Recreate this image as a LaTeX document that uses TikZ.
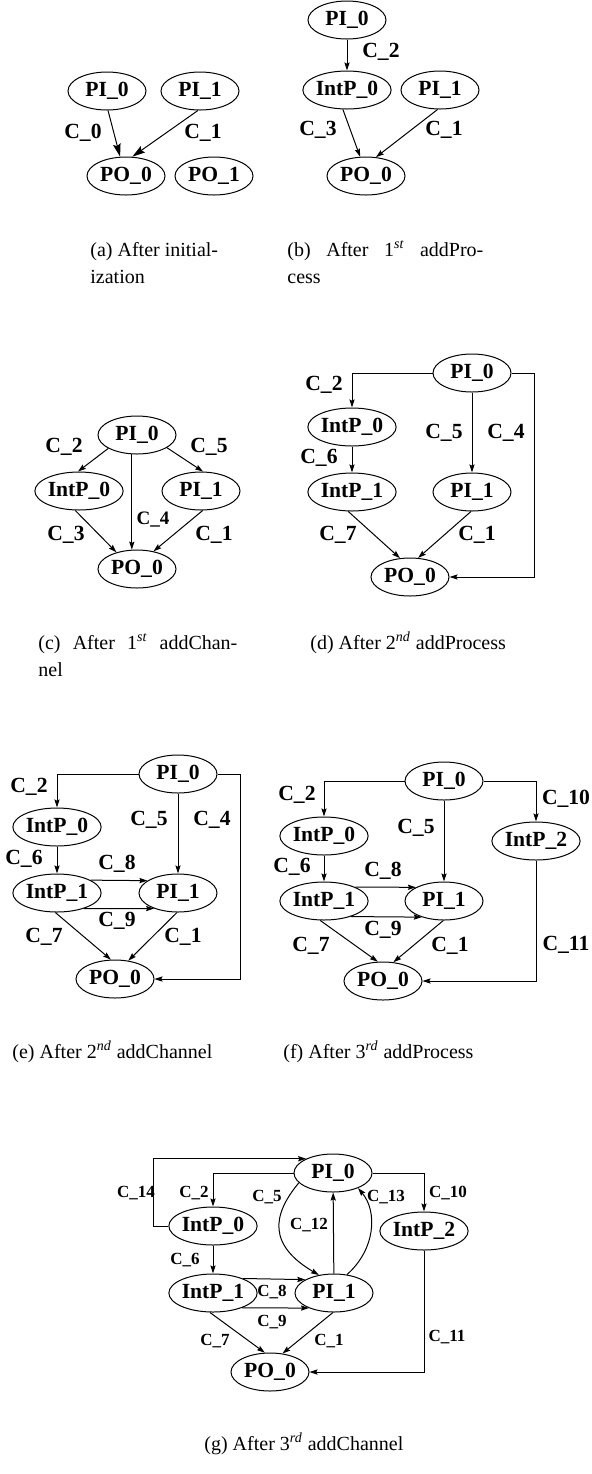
\documentclass[tikz,border=0pt]{standalone}
\usepackage{fontspec}
\setmainfont{Liberation Serif}
\usetikzlibrary{arrows.meta,shapes.geometric}
\begin{document}
\begin{tikzpicture}[x=0.5pt,y=-0.5pt,
  nd/.style={draw, ellipse, minimum width=39pt, minimum height=19pt, inner sep=0pt, line width=0.5pt, font=\fontsize{10.8}{12}\selectfont\bfseries},
  lab/.style={inner sep=0pt, font=\fontsize{10.8}{12}\selectfont\bfseries},
  slab/.style={inner sep=0pt, font=\fontsize{8.5}{10}\selectfont\bfseries},
  mlab/.style={inner sep=0pt, font=\fontsize{9.5}{11}\selectfont\bfseries},
  edg/.style={line width=0.5pt, -{Stealth[length=4pt,width=2.6pt,inset=0.6pt]}},
  bigarr/.style={line width=0.5pt, -{Stealth[length=6.5pt,width=3.8pt,inset=1pt]}},
  capt/.style={anchor=base west, inner sep=0pt, font=\fontsize{10}{12}\selectfont}]
\useasboundingbox (0,0) rectangle (591,1474);
\newcommand{\sst}[1]{\textsuperscript{\itshape #1}}
% (a)
\node[nd] (a0) at (107,91) {PI\_0};
\node[nd] (a1) at (200,91) {PI\_1};
\node[nd] (a2) at (126,176) {PO\_0};
\node[nd] (a3) at (214,176) {PO\_1};
\draw[bigarr] (a0.-87) -- (a2.107);
\draw[bigarr] (a1.-96) -- (a2.72);
\node[lab] (la0) at (83,133) {C\_0};
\node[lab] (la1) at (203,133) {C\_1};
\node[capt] (ca1) at (90,256) {(a) After initial-};
\node[capt] (ca2) at (90,283) {ization};
% (b)
\node[nd] (b0) at (347,20) {PI\_0};
\node[nd] (b1) at (347,90) {IntP\_0};
\node[nd] (b2) at (440,90) {PI\_1};
\node[nd] (b3) at (366,176) {PO\_0};
\draw[edg] (b0) -- (b1);
\draw[edg] (b1.-102) -- (b3.107);
\draw[edg] (b2.-97) -- (b3.62);
\node[lab] (lb2) at (381,52) {C\_2};
\node[lab] (lb3) at (318,130) {C\_3};
\node[lab] (lb1) at (444,130) {C\_1};
\node[capt] (cb1) at (287,256) {\makebox[98pt][s]{(b) After 1\sst{st} addPro-}};
\node[capt] (cb2) at (287,283) {cess};
% (c)
\node[nd] (c0) at (137,435) {PI\_0};
\node[nd] (c1) at (79,491) {IntP\_0};
\node[nd] (c2) at (201,491) {PI\_1};
\node[nd] (c3) at (137,569) {PO\_0};
\draw[edg] (c0.-155) -- (c1.93);
\draw[edg] (c0.-23) -- (c2.84);
\draw[edg] (c0.-105) -- (c3.105);
\draw[edg] (c1.-101) -- (c3.141);
\draw[edg] (c2.-85) -- (c3.47);
\node[lab] (lc2) at (64,447) {C\_2};
\node[lab] (lc5) at (209,447) {C\_5};
\node[mlab] (lc4) at (153,520) {C\_4};
\node[lab] (lc3) at (66,535) {C\_3};
\node[lab] (lc1) at (214,535) {C\_1};
\node[capt] (cc1) at (38,649) {\makebox[99.5pt][s]{(c) After 1\sst{st} addChan-}};
\node[capt] (cc2) at (38,676) {nel};
% (d)
\node[nd] (d0) at (472,373) {PI\_0};
\node[nd] (d1) at (352,427) {IntP\_0};
\node[nd] (d2) at (352,492) {IntP\_1};
\node[nd] (d3) at (472,492) {PI\_1};
\node[nd] (d4) at (410,577) {PO\_0};
\draw[edg] (d0.west) -| (d1.north);
\draw[edg] (d1) -- (d2);
\draw[edg] (d0) -- (d3);
\draw[edg] (d0.east) -- ++(23,0) |- (d4.east);
\draw[edg] (d2.-101) -- (d4.118);
\draw[edg] (d3.-93) -- (d4.67);
\node[lab] (ld2) at (324,385) {C\_2};
\node[lab] (ld6) at (319,458) {C\_6};
\node[lab] (ld5) at (444,433) {C\_5};
\node[lab] (ld4) at (506,433) {C\_4};
\node[lab] (ld7) at (338,535) {C\_7};
\node[lab] (ld1) at (477,535) {C\_1};
\node[capt] (cd1) at (310,649) {(d) After 2\sst{nd} addProcess};
% (e)
\node[nd] (e0) at (178,774) {PI\_0};
\node[nd] (e1) at (57,827) {IntP\_0};
\node[nd] (e2) at (57,893) {IntP\_1};
\node[nd] (e3) at (178,893) {PI\_1};
\node[nd] (e4) at (115,979) {PO\_0};
\draw[edg] (e0.west) -| (e1.north);
\draw[edg] (e1) -- (e2);
\draw[edg] (e0) -- (e3);
\draw[edg] (e2.21) -- (e3.158);
\draw[edg] (e2.-30) -- (e3.-147);
\draw[edg] (e0.east) -- ++(23,0) |- (e4.east);
\draw[edg] (e2.-95) -- (e4.102);
\draw[edg] (e3.-93) -- (e4.54);
\node[lab] (le2) at (29,787) {C\_2};
\node[lab] (le6) at (24,859) {C\_6};
\node[lab] (le5) at (149,820) {C\_5};
\node[lab] (le4) at (212,820) {C\_4};
\node[lab] (le8) at (117,864) {C\_8};
\node[lab] (le9) at (117,921) {C\_9};
\node[lab] (le7) at (44,937) {C\_7};
\node[lab] (le1) at (183,937) {C\_1};
\node[capt] (ce1) at (12,1058) {(e) After 2\sst{nd} addChannel};
% (f)
\node[nd] (f0) at (444,781) {PI\_0};
\node[nd] (f1) at (324,836) {IntP\_0};
\node[nd] (f2) at (324,901) {IntP\_1};
\node[nd] (f3) at (444,901) {PI\_1};
\node[nd] (f5) at (536,841) {IntP\_2};
\node[nd] (f4) at (383,981) {PO\_0};
\draw[edg] (f0.west) -| (f1.north);
\draw[edg] (f0.east) -| (f5.north);
\draw[edg] (f1) -- (f2);
\draw[edg] (f0) -- (f3);
\draw[edg] (f2.24) -- (f3.154);
\draw[edg] (f2.-30) -- (f3.-144);
\draw[edg] (f5.south) |- (f4.east);
\draw[edg] (f2.-101) -- (f4.105);
\draw[edg] (f3.-92) -- (f4.61);
\node[lab] (lf2) at (297,795) {C\_2};
\node[lab] (lf5) at (416,828) {C\_5};
\node[lab] (lf10) at (566,799) {C\_10};
\node[lab] (lf6) at (292,867) {C\_6};
\node[lab] (lf8) at (383,871) {C\_8};
\node[lab] (lf9) at (383,930) {C\_9};
\node[lab] (lf7) at (311,946) {C\_7};
\node[lab] (lf1) at (450,946) {C\_1};
\node[lab] (lf11) at (566,945) {C\_11};
\node[capt] (cf1) at (283,1058) {(f) After 3\sst{rd} addProcess};
% (g)
\node[nd] (g0) at (333,1173) {PI\_0};
\node[nd] (g1) at (213,1226) {IntP\_0};
\node[nd] (g2) at (213,1293) {IntP\_1};
\node[nd] (g3) at (334,1293) {PI\_1};
\node[nd] (g5) at (424,1231) {IntP\_2};
\node[nd] (g4) at (270,1372) {PO\_0};
\draw[edg] (g1.west) -- ++(-15,0) |- (g0.152);
\draw[edg] (g0.west) -| (g1.north);
\draw[edg] (g0.east) -| (g5.north);
\draw[edg] (g1) -- (g2);
\draw[edg] (g2.26) -- (g3.155);
\draw[edg] (g2.-27) -- (g3.-149);
\draw[edg] (g3) -- (g0);
\draw[edg] (g0.-164) .. controls (272,1215) and (268,1245) .. (g3.130);
\draw[edg] (g3.55) .. controls (375,1250) and (378,1212) .. (g0.-31);
\draw[edg] (g5.south) |- (g4.east);
\draw[edg] (g2.-99) -- (g4.105);
\draw[edg] (g3.-93) -- (g4.56);
\node[slab] (lg14) at (136,1193) {C\_14};
\node[slab] (lg2) at (194,1193) {C\_2};
\node[slab] (lg5) at (267,1197) {C\_5};
\node[slab] (lg12) at (309,1225) {C\_12};
\node[slab] (lg13) at (386,1197) {C\_13};
\node[slab] (lg10) at (448,1193) {C\_10};
\node[slab] (lg6) at (185,1260) {C\_6};
\node[slab] (lg8) at (272,1292) {C\_8};
\node[slab] (lg9) at (272,1322) {C\_9};
\node[slab] (lg7) at (215,1341) {C\_7};
\node[slab] (lg1) at (329,1341) {C\_1};
\node[slab] (lg11) at (447,1337) {C\_11};
\node[capt] (cg1) at (204,1450) {(g) After 3\sst{rd} addChannel};
\end{tikzpicture}
\end{document}
